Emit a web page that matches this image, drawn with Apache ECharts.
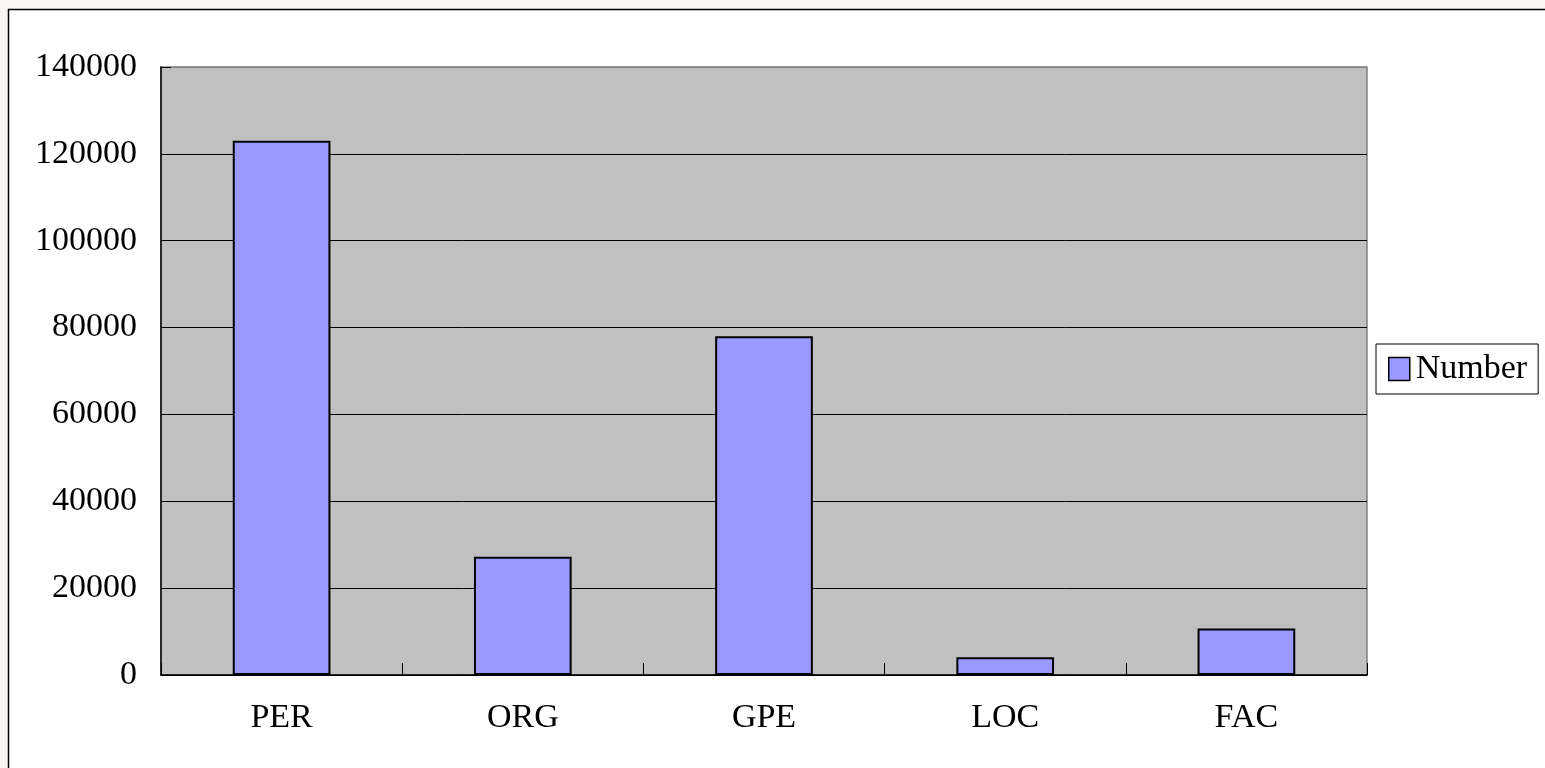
<!DOCTYPE html>
<html>
<head>
<meta charset="utf-8">
<script src="https://cdn.jsdelivr.net/npm/echarts@6/dist/echarts.min.js"></script>
<style>
  html, body { margin: 0; padding: 0; background: #f7f6f4; }
  #chart { width: 1545px; height: 768px; }
</style>
</head>
<body>
<div id="chart"></div>
<script>
// Entity-type counts
const categories = ['PER', 'ORG', 'GPE', 'LOC', 'FAC'];
const numberValues = [123000, 27200, 78000, 4100, 10700];
const seriesName = 'Number';
const yMin = 0;
const yMax = 140000;
const yStep = 20000;

const FONT = '"Liberation Serif", "DejaVu Serif", serif';

const chart = echarts.init(document.getElementById('chart'), null, { renderer: 'canvas' });

// horizontal rules: black inside the plot, grey on the top edge
const nLines = Math.round((yMax - yMin) / yStep) + 1;
const ruleColors = [];
for (let i = 0; i < nLines; i++) ruleColors.push(i === nLines - 1 ? '#808080' : '#000000');

chart.setOption({
  backgroundColor: 'transparent',
  animation: false,
  graphic: [{
    type: 'rect',
    z: -10,
    shape: { x: 8.5, y: 9.5, width: 1600, height: 800 },
    style: { fill: '#ffffff', stroke: '#000000', lineWidth: 1.5 },
    silent: true
  }],
  grid: {
    left: 161, right: 178, top: 67, bottom: 93,
    show: true,
    backgroundColor: '#c0c0c0',
    borderColor: '#808080',
    borderWidth: 1.5
  },
  legend: {
    data: [seriesName],
    orient: 'vertical',
    left: 1376, top: 344,
    padding: [8, 11, 8, 12],
    backgroundColor: '#ffffff',
    borderColor: '#000000',
    borderWidth: 1,
    borderRadius: 0,
    icon: 'rect',
    itemWidth: 21,
    itemHeight: 23,
    itemGap: 0,
    textStyle: { fontFamily: FONT, fontSize: 34, color: '#000000', padding: [2, 0, 0, 1] },
    itemStyle: { borderColor: '#000000', borderWidth: 1.5 }
  },
  xAxis: {
    type: 'category',
    data: categories,
    boundaryGap: true,
    axisLine: { show: true, lineStyle: { color: '#000000', width: 1.5 } },
    axisTick: { show: true, inside: true, length: 12, alignWithLabel: false, lineStyle: { color: '#000000', width: 1 } },
    axisLabel: { fontFamily: FONT, fontSize: 34, color: '#000000', margin: 26 },
    splitLine: { show: false }
  },
  yAxis: {
    type: 'value',
    min: yMin, max: yMax, interval: yStep,
    axisLine: { show: true, lineStyle: { color: '#000000', width: 1.5 } },
    axisTick: { show: true, inside: true, length: 10, lineStyle: { color: '#000000', width: 1 } },
    axisLabel: {
      fontFamily: FONT, fontSize: 34, color: '#000000', margin: 24,
      formatter: (v) => String(v)
    },
    splitLine: { show: true, lineStyle: { color: ruleColors, width: 1 } }
  },
  series: [{
    name: seriesName,
    type: 'bar',
    data: numberValues,
    barWidth: '40.5%',
    itemStyle: { color: '#9999ff', borderColor: '#000000', borderWidth: 2 }
  }]
});
</script>
</body>
</html>
